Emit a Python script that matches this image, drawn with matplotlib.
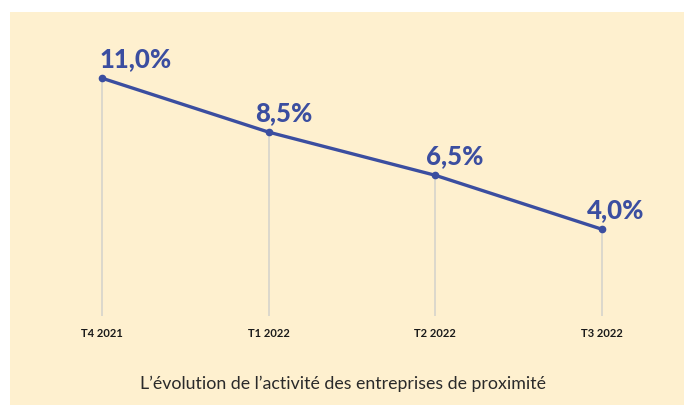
import matplotlib.pyplot as plt
from matplotlib.patches import Rectangle

# Data
periods = ["T4 2021", "T1 2022", "T2 2022", "T3 2022"]
values = [11.0, 8.5, 6.5, 4.0]
value_labels = ["11,0%", "8,5%", "6,5%", "4,0%"]
caption = "L\u2019évolution de l\u2019activité des entreprises de proximité"

blue = "#3b4ea0"
panel = "#fef0cf"

fig = plt.figure(figsize=(6.84, 4.05), dpi=100, facecolor="white")

# Cream panel behind the chart
fig.patches.append(Rectangle((10 / 684, 0), 1, 393 / 405, transform=fig.transFigure,
                             facecolor=panel, edgecolor="none", zorder=-5))

ax = fig.add_axes([52 / 684, 89.4 / 405, 600 / 684, 259 / 405])
ax.set_zorder(2)
ax.set_facecolor("none")
x = list(range(len(periods)))

ax.vlines(x, 0, values, color="#dcd8cc", linewidth=1.4, zorder=1)
ax.plot(x, values, color=blue, linewidth=2.4, marker="o", markersize=4.5,
        solid_capstyle="round", zorder=3, clip_on=False)

# value labels above the points (horizontal nudge per label)
dx = [34, 15, 19, 14]
for xi, v, lab, d in zip(x, values, value_labels, dx):
    ax.annotate(lab, (xi, v), xytext=(d * 0.72, 19 * 0.72), textcoords="offset points",
                ha="center", va="center", fontsize=18.5, fontweight="black",
                family="Lato", color=blue)

ax.set_xlim(-0.3, 3.3)
ax.set_ylim(0, 12)
ax.set_xticks(x)
ax.set_xticklabels(periods, fontsize=8, fontweight="bold", family="Lato", color="#1a1a1a")
ax.tick_params(axis="x", length=0, pad=9)
ax.set_yticks([])
for s in ax.spines.values():
    s.set_visible(False)

fig.text(0.502, 0.052, caption, ha="center", va="center", fontsize=12.8,
         family="Lato", color="#2a2a2a", zorder=3)

fig.savefig("out.png", dpi=100, facecolor="white")
